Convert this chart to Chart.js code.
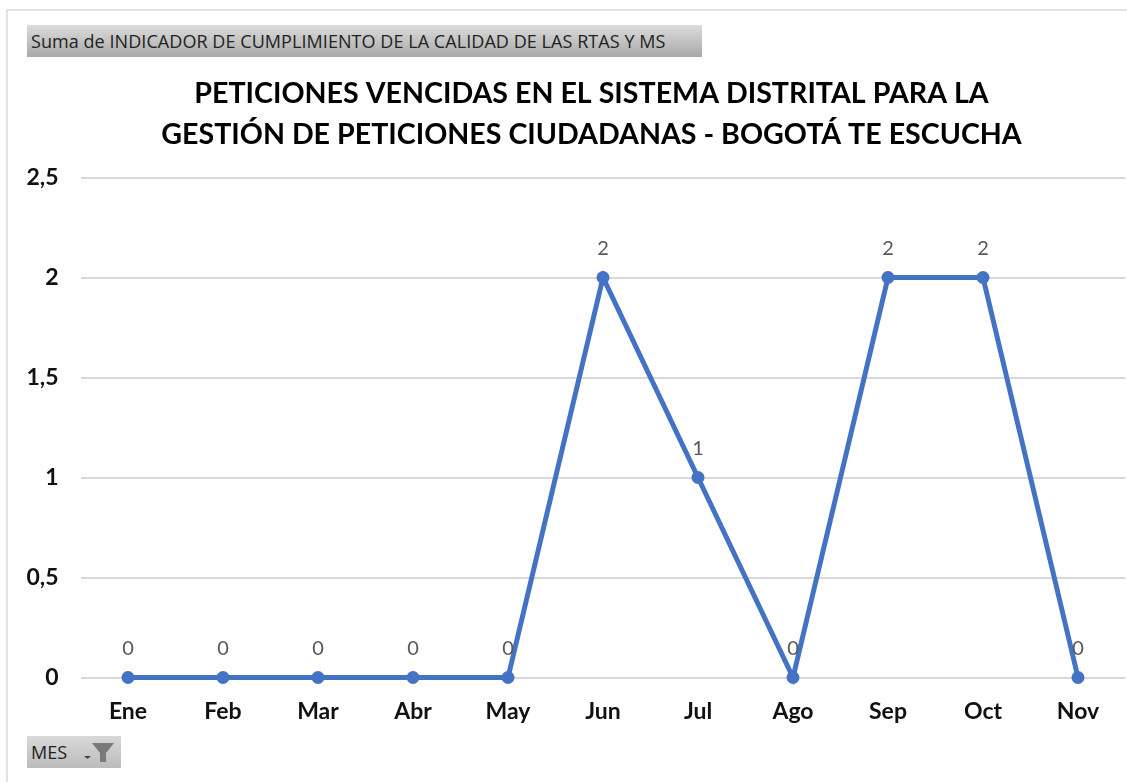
<!DOCTYPE html>
<html>
<head>
<meta charset="utf-8">
<script src="https://cdn.jsdelivr.net/npm/chart.js@4/dist/chart.umd.min.js"></script>
<style>
  body { margin: 0; background: #fff; overflow: hidden; }
  #frame { position: relative; width: 1127px; height: 782px; overflow: hidden; }
  #frame:before {
    content: ""; position: absolute; left: 6px; top: 9px; width: 1140px; height: 771px;
    border: 2px solid #e2e2e2; pointer-events: none;
  }
  #chart-peticiones { position: absolute; left: 0; top: 0; }
  .pivot { position: absolute; color: #222; font-family: "Open Sans", sans-serif; white-space: nowrap; }
  #pivot-value {
    left: 27px; top: 25px; width: 675px; height: 32px; line-height: 33px; font-size: 18px;
    letter-spacing: 0.06px; text-indent: 4px; background: linear-gradient(#dcdcdc, #a9a9a9);
  }
  #pivot-mes {
    left: 27px; top: 736px; width: 94px; height: 32px; line-height: 32px; font-size: 18px;
    text-indent: 4px; background: linear-gradient(#d9d9d9, #bcbcbc);
  }
  #pivot-mes svg { position: absolute; left: 54px; top: 5px; }
</style>
</head>
<body>
<div id="frame">
  <canvas id="chart-peticiones" width="1127" height="782"></canvas>
  <div class="pivot" id="pivot-value">Suma de INDICADOR DE CUMPLIMIENTO DE LA CALIDAD DE LAS RTAS Y MS</div>
  <div class="pivot" id="pivot-mes">MES
    <svg width="36" height="24" viewBox="0 0 36 24">
      <path d="M3 15h7l-3.5 3z" fill="#444"/>
      <path d="M11 2h22l-8 10v9h-6v-9z" fill="#7a7a7a"/>
    </svg>
  </div>
</div>
<script>
const meses = ["Ene", "Feb", "Mar", "Abr", "May", "Jun", "Jul", "Ago", "Sep", "Oct", "Nov"];
const vencidas = [0, 0, 0, 0, 0, 2, 1, 0, 2, 2, 0];
const tituloLineas = [
  "PETICIONES VENCIDAS EN EL SISTEMA DISTRITAL PARA LA",
  "GESTIÓN DE PETICIONES CIUDADANAS - BOGOTÁ TE ESCUCHA",
];

// titulo centrado fuera del eje del area de trazado y etiquetas de valor
const rotulos = {
  id: "rotulos",
  afterDatasetsDraw(chart) {
    const ctx = chart.ctx;
    ctx.save();
    ctx.textAlign = "center";
    ctx.textBaseline = "middle";
    ctx.fillStyle = "#595959";
    ctx.font = '20px Lato, sans-serif';
    chart.getDatasetMeta(0).data.forEach((pt, i) => {
      ctx.fillText(vencidas[i], pt.x, pt.y - 29);
    });
    ctx.fillStyle = "#000";
    ctx.font = 'bold 28.6px Lato, sans-serif';
    ctx.fillText(tituloLineas[0], 591.5, 94);
    ctx.fillText(tituloLineas[1], 591.5, 135);
    ctx.restore();
  },
};

const ctx = document.getElementById("chart-peticiones").getContext("2d");
new Chart(ctx, {
  type: "line",
  data: {
    labels: meses,
    datasets: [
      {
        label: "Peticiones vencidas",
        data: vencidas,
        borderColor: "#4472C4",
        backgroundColor: "#4472C4",
        borderWidth: 5,
        pointRadius: 6.5,
        pointBorderWidth: 0,
        tension: 0,
        clip: false,
      },
    ],
  },
  options: {
    responsive: false,
    animation: false,
    layout: { autoPadding: false, padding: { top: 177.5, right: 1.5, bottom: 0, left: 0 } },
    plugins: { legend: { display: false }, title: { display: false }, tooltip: { enabled: false } },
    scales: {
      x: {
        offset: true,
        afterFit: (axis) => {
          axis.height = 104.5;
          axis.paddingLeft = 0;
          axis.paddingRight = 0;
        },
        grid: { display: false },
        border: { display: false },
        ticks: {
          color: "#111",
          padding: 12,
          maxRotation: 0,
          font: { family: "Lato, sans-serif", size: 23, weight: "bold" },
        },
      },
      y: {
        min: 0,
        max: 2.5,
        afterFit: (axis) => { axis.width = 80.5; },
        grid: { color: "#d9d9d9", lineWidth: 2, drawTicks: false },
        border: { display: false },
        ticks: {
          stepSize: 0.5,
          color: "#111",
          padding: 22,
          font: { family: "Lato, sans-serif", size: 23, weight: "bold" },
          callback: (v) => String(v).replace(".", ","),
        },
      },
    },
  },
  plugins: [rotulos],
});
</script>
</body>
</html>
